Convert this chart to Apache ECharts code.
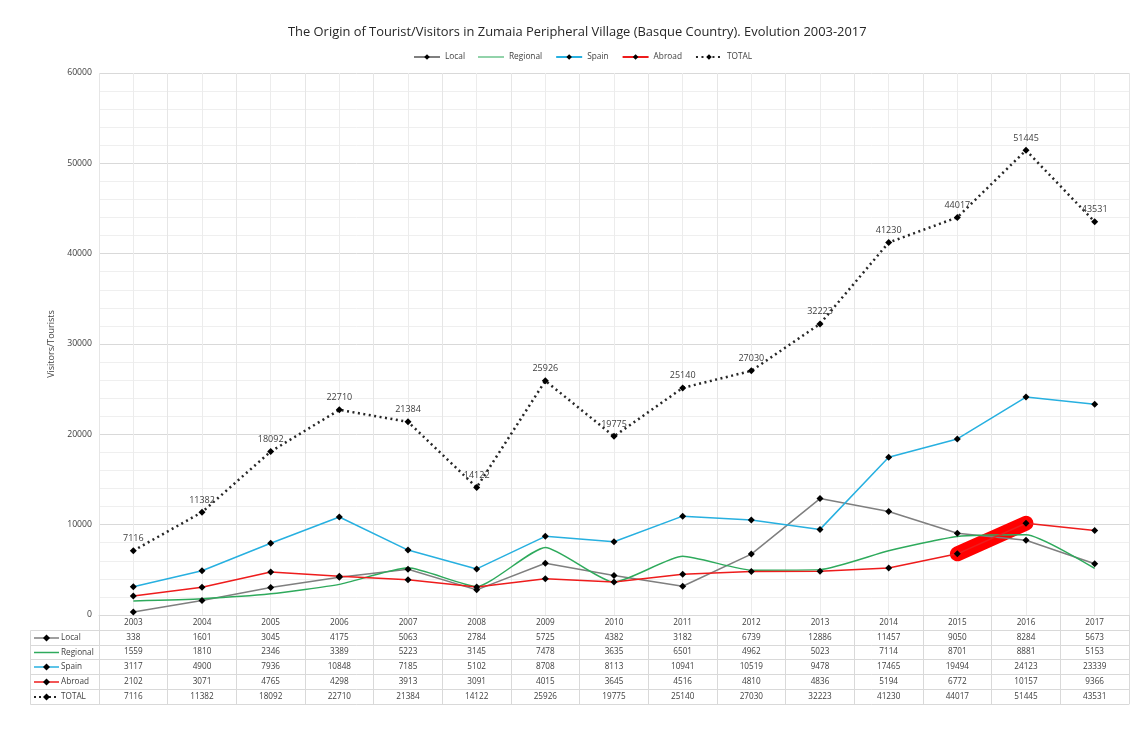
<!DOCTYPE html>
<html>
<head>
<meta charset="utf-8">
<script src="https://cdn.jsdelivr.net/npm/echarts@6/dist/echarts.min.js"></script>
<style>
html,body{margin:0;padding:0;background:#fff;}
#chart{width:1130px;height:753px;}
</style>
</head>
<body>
<div id="chart"></div>
<script>
var years = ['2003','2004','2005','2006','2007','2008','2009','2010','2011','2012','2013','2014','2015','2016','2017'];
var local    = [338,1601,3045,4175,5063,2784,5725,4382,3182,6739,12886,11457,9050,8284,5673];
var regional = [1559,1810,2346,3389,5223,3145,7478,3635,6501,4962,5023,7114,8701,8881,5153];
var spain    = [3117,4900,7936,10848,7185,5102,8708,8113,10941,10519,9478,17465,19494,24123,23339];
var abroad   = [2102,3071,4765,4298,3913,3091,4015,3645,4516,4810,4836,5194,6772,10157,9366];
var total    = [7116,11382,18092,22710,21384,14122,25926,19775,25140,27030,32223,41230,44017,51445,43531];
var highlightYears = ['2015','2016'];
var seriesNames = ['Local','Regional','Spain','Abroad','TOTAL'];
var yTicks = [0,10000,20000,30000,40000,50000,60000];

var colors = {Local:'#7f7f7f', Regional:'#2eaa5c', Spain:'#27b0e0', Abroad:'#ee1c1c', TOTAL:'#262626'};
var FONT = '"Open Sans", "Noto Sans", sans-serif';
var GRID_LEFT = 99, GRID_RIGHT = 1, GRID_TOP = 73, GRID_BOTTOM = 138;
var AXIS_Y = 753 - GRID_BOTTOM;
var ROW_H = 14.75;
var gridLineColor = '#d9d9d9';

var rows = [years, local, regional, spain, abroad, total];
var rowOffsets = rows.map(function(r, i){ return Math.round(ROW_H * (i + 1)); });

var xAxes = [{
  type: 'category', data: years, gridIndex: 0, position: 'bottom',
  boundaryGap: true,
  axisLine: {show: true, lineStyle: {color: gridLineColor}},
  axisTick: {show: false},
  axisLabel: {show: false},
  splitLine: {show: true, lineStyle: {color: '#e6e6e6'}}
}];
rows.forEach(function(r, i){
  xAxes.push({
    type: 'category', gridIndex: 0, position: 'bottom', offset: rowOffsets[i],
    data: r.map(function(v){ return String(v); }),
    boundaryGap: true,
    axisLine: {show: true, lineStyle: {color: gridLineColor}},
    axisTick: {show: true, inside: true, length: rowOffsets[i] - (i === 0 ? 0 : rowOffsets[i-1]), lineStyle: {color: gridLineColor}},
    axisLabel: {show: true, inside: true, margin: 3, interval: 0, fontSize: 8.2, color: '#404040', fontFamily: FONT},
    splitLine: {show: false}
  });
});

function lineSeries(name, data, opts) {
  var s = {
    name: name, type: 'line', data: data, xAxisIndex: 0, yAxisIndex: 0,
    symbol: 'diamond', symbolSize: 7,
    itemStyle: {color: '#000'},
    lineStyle: {color: colors[name], width: 1.5},
    z: 3
  };
  for (var k in opts) s[k] = opts[k];
  return s;
}

var highlightData = abroad.map(function(v, i){ return highlightYears.indexOf(years[i]) >= 0 ? v : null; });

var series = [
  lineSeries('Local', local, {
    markLine: {
      silent: true, symbol: 'none', z: 1,
      label: {show: false},
      lineStyle: {color: '#ececec', width: 1, type: 'solid'},
      data: years.map(function(y){ return {xAxis: y}; })
    }
  }),
  lineSeries('Regional', regional, {symbol: 'none', smooth: 0.18, itemStyle: {color: colors.Regional}}),
  lineSeries('Spain', spain, {}),
  {
    name: 'AbroadHighlight', type: 'line', data: highlightData, symbol: 'none',
    lineStyle: {color: '#ff0000', width: 15, cap: 'round'}, z: 2, connectNulls: false
  },
  lineSeries('Abroad', abroad, {}),
  lineSeries('TOTAL', total, {
    lineStyle: {color: '#262626', width: 2.5, type: [2, 3.5]},
    label: {show: true, position: 'top', distance: 4, fontSize: 9, color: '#404040', fontFamily: FONT},
    z: 4
  })
];

var chart = echarts.init(document.getElementById('chart'), null, {renderer: 'canvas'});

// left column of the data table
var graphics = [];
var colLeft = 30.5, colRight = 99.5;
var lineYs = rowOffsets.map(function(o){ return AXIS_Y + o + 0.5; });
for (var i = 0; i < lineYs.length; i++) {
  graphics.push({type: 'line', shape: {x1: colLeft, y1: lineYs[i], x2: colRight, y2: lineYs[i]}, style: {stroke: gridLineColor, lineWidth: 1}, silent: true});
}
graphics.push({type: 'line', shape: {x1: colLeft, y1: lineYs[0], x2: colLeft, y2: lineYs[lineYs.length-1]}, style: {stroke: gridLineColor, lineWidth: 1}, silent: true});
seriesNames.forEach(function(name, k){
  var cy = (lineYs[k] + lineYs[k+1]) / 2;
  var dashed = name === 'TOTAL';
  graphics.push({type: 'line', shape: {x1: 34, y1: cy, x2: 59, y2: cy},
    style: {stroke: colors[name], lineWidth: dashed ? 2 : 1.5, lineDash: dashed ? [2, 3] : null}, silent: true});
  if (name !== 'Regional') {
    graphics.push({type: 'polygon', shape: {points: [[46.5, cy - 3.5], [50, cy], [46.5, cy + 3.5], [43, cy]]}, style: {fill: '#000'}, silent: true});
  }
  graphics.push({type: 'text', x: 61, y: cy, style: {text: name, fontSize: 8.2, fill: '#404040', fontFamily: FONT, verticalAlign: 'middle', align: 'left'}, silent: true});
});

var legendData = seriesNames.map(function(n){
  return n === 'Regional' ? {name: n, icon: 'path://M0,0 L40,0 L40,1.6 L0,1.6 Z'} : {name: n};
});

chart.setOption({
  animation: false,
  backgroundColor: '#fff',
  title: {
    text: 'The Origin of Tourist/Visitors in Zumaia Peripheral Village (Basque Country). Evolution 2003-2017',
    left: 283, top: 21,
    textStyle: {fontSize: 12.9, fontWeight: 'normal', color: '#262626', fontFamily: FONT}
  },
  legend: {
    data: legendData,
    top: 48, left: 408,
    itemWidth: 26, itemHeight: 7, itemGap: 13,
    textStyle: {fontSize: 8.3, color: '#404040', fontFamily: FONT}
  },
  grid: {left: GRID_LEFT, right: GRID_RIGHT, top: GRID_TOP, bottom: GRID_BOTTOM, containLabel: false},
  xAxis: xAxes,
  yAxis: {
    type: 'value', min: yTicks[0], max: yTicks[yTicks.length-1], interval: yTicks[1] - yTicks[0],
    name: 'Visitors/Tourists', nameLocation: 'middle', nameGap: 38,
    nameTextStyle: {fontSize: 9, color: '#404040', fontFamily: FONT},
    axisLine: {show: false}, axisTick: {show: false},
    axisLabel: {fontSize: 8.7, color: '#404040', margin: 7, fontFamily: FONT, formatter: function(v){ return String(v); }},
    splitLine: {show: true, lineStyle: {color: gridLineColor}},
    minorTick: {show: false, splitNumber: 5},
    minorSplitLine: {show: true, lineStyle: {color: '#efefef'}}
  },
  graphic: graphics,
  series: series
});
</script>
</body>
</html>
